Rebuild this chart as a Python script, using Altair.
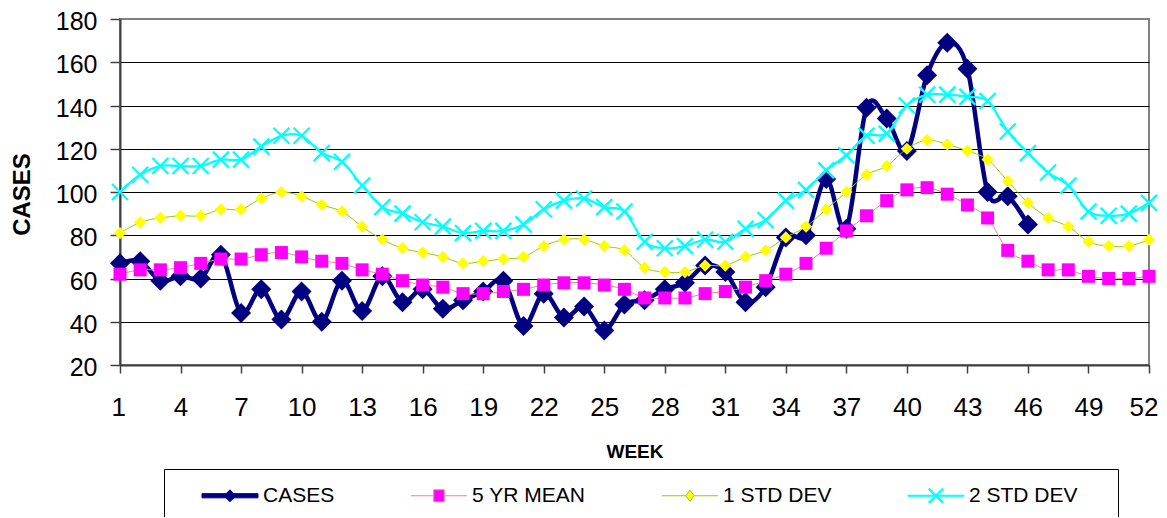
import altair as alt
import pandas as pd

# ---------------- data ----------------
weeks = list(range(1, 53))
series_names = ["CASES", "5 YR MEAN", "1 STD DEV", "2 STD DEV"]

cases = [67, 68, 59, 61, 60, 71, 44, 55, 41, 54, 40, 59, 45, 61, 49, 55, 46, 50,
         54, 59, 38, 53, 42, 47, 36, 48, 50, 55, 58, 66, 63, 49, 56, 79, 80, 106,
         83, 139, 134, 119, 154, 169, 157, 100, 98, 85]
mean5 = [62, 64, 64, 65, 67, 69, 69, 71, 72, 70, 68, 67, 64, 62, 59, 57, 56, 53,
         53, 54, 55, 57, 58, 58, 57, 55, 51, 51, 51, 53, 54, 56, 59, 62, 67, 74,
         82, 89, 96, 101, 102, 99, 94, 88, 73, 68, 64, 64, 61, 60, 60, 61]
std1 = [81, 86, 88, 89, 89, 92, 92, 97, 100, 98, 94, 91, 84, 78, 74, 72, 70, 67,
        68, 69, 70, 75, 78, 78, 75, 73, 65, 63, 63, 66, 66, 70, 73, 79, 84, 92,
        100, 108, 112, 120, 124, 122, 119, 115, 105, 95, 88, 84, 77, 75, 75, 78]
std2 = [100, 108, 112, 112, 112, 115, 115, 121, 126, 126, 118, 114, 103, 93, 90,
        86, 84, 81, 82, 82, 85, 92, 96, 97, 93, 91, 77, 74, 75, 78, 77, 83, 87,
        96, 101, 110, 117, 126, 127, 140, 145, 145, 144, 142, 128, 118, 109, 103,
        91, 89, 90, 95]

x_ticks = list(range(1, 53, 3))
y_ticks = list(range(20, 181, 20))

# ---------------- styles ----------------
line_colors = ["#000080", "#FF8080", "#99CC00", "#00FFFF"]
marker_colors = ["#000080", "#FF00FF", "#FFFF00", "#00FFFF"]
line_widths = [4.5, 1, 1, 2.3]
X_SHAPE = "M-1,-1L1,1M-1,1L1,-1"

# legend symbols: line + marker (unit = 7px with symbolSize 196),
# drawn shifted right by S units so that the label gap matches.
S = 5.64


def _p(pts):
    return "M" + "L".join(f"{x + S:.2f},{y:.2f}" for x, y in pts) + "Z"


def _h(x0, x1):
    return f"M{x0 + S:.2f},0H{x1 + S:.2f}"


LAST_GHOST = f"M{23.4 + S:.2f},0"   # widens only the last entry (box right edge)
legend_paths = [
    _p([(-4, -0.3), (4, -0.3), (4, 0.3), (-4, 0.3)])
    + _p([(0, -0.85), (0.85, 0), (0, 0.85), (-0.85, 0)]),
    _h(-4, -0.75) + _h(0.75, 4)
    + _p([(-0.75, -0.85), (0.75, -0.85), (0.75, 0.85), (-0.75, 0.85)]),
    _h(-4, -0.6) + _h(0.6, 4)
    + _p([(0, -0.8), (0.6, 0), (0, 0.8), (-0.6, 0)]),
    _p([(-4, -0.07), (4, -0.07), (4, 0.07), (-4, 0.07)])
    + _p([(-0.92, -1.08), (1.08, 0.92), (0.92, 1.08), (-1.08, -0.92)])
    + _p([(-1.08, 0.92), (0.92, -1.08), (1.08, -0.92), (-0.92, 1.08)]) + LAST_GHOST,
]

rows = []
for name, vals in zip(series_names, [cases, mean5, std1, std2]):
    for w, v in zip(weeks, vals):
        rows.append({"week": w, "series": name, "value": v})
df = pd.DataFrame(rows)

FONT = "Liberation Sans"

x_enc = alt.X(
    "week:Q",
    scale=alt.Scale(domain=[1, 52], nice=False, zero=False),
    axis=alt.Axis(
        values=x_ticks, format="d", title="WEEK", grid=False,
        tickSize=8, labelPadding=42, labelBaseline="alphabetic",
        labelFlush=True, labelFlushOffset=9, labelOverlap=False,
        titleX=514.5, titleY=92, titleBaseline="alphabetic", titleAlign="center",
        titleFontSize=19, titleFontWeight="bold",
    ),
)
y_enc = alt.Y(
    "value:Q",
    scale=alt.Scale(domain=[20, 180], nice=False, zero=False),
    axis=alt.Axis(
        values=y_ticks, title="CASES", grid=True,
        gridColor={"condition": {"test": "datum.value === 180", "value": "#808080"},
                   "value": "#000000"},
        tickSize=10, labelPadding=13, labelOffset=2.5, labelFontSize=25,
        labelFlush=False, labelOverlap=False,
        titleX=-91, titleY=175, titleBaseline="alphabetic", titleAlign="center",
        titleFontSize=24, titleFontWeight="bold",
    ),
)

base = alt.Chart(df)
layers = []
point_specs = [
    dict(shape="diamond", filled=True, size=400),
    dict(shape="square", filled=True, size=169),
    dict(shape="diamond", filled=True, size=150),
    dict(shape=X_SHAPE, filled=False, size=256, strokeWidth=2.3),
]
for i, name in enumerate(series_names):
    sub = base.transform_filter(alt.datum.series == name)
    layers.append(
        sub.mark_line(color=line_colors[i], strokeWidth=line_widths[i],
                      interpolate="cardinal").encode(x=x_enc, y=y_enc)
    )
    spec = point_specs[i]
    layers.append(
        sub.mark_point(color=marker_colors[i], opacity=1, **spec).encode(x=x_enc, y=y_enc)
    )

legend = alt.Legend(
    orient="none", legendX=44, legendY=450, direction="horizontal", columns=4,
    title=None, symbolSize=196, symbolStrokeWidth=1, symbolOpacity=1,
    labelFontSize=21, labelFont=FONT, labelColor="black", labelOffset=62,
    labelLimit=400, columnPadding=54, padding=16,
    strokeColor="#000000", fillColor="#FFFFFF",
)
legend_layer = base.mark_point(size=0, opacity=1, filled=True).encode(
    x=x_enc, y=y_enc,
    fill=alt.Fill("series:N", scale=alt.Scale(domain=series_names, range=marker_colors), legend=legend),
    stroke=alt.Stroke("series:N", scale=alt.Scale(domain=series_names, range=line_colors), legend=legend),
    shape=alt.Shape("series:N", scale=alt.Scale(domain=series_names, range=legend_paths), legend=legend),
)
layers.append(legend_layer)

chart = alt.layer(*layers).properties(
    width=1029, height=346,
    autosize=alt.AutoSizeParams(type="none"),
    padding={"left": 112, "top": 11, "right": 10, "bottom": 152},
    background="white",
).configure_view(
    stroke="#808080", strokeWidth=2,
).configure_axis(
    labelFont=FONT, labelFontSize=26, labelColor="#000000",
    titleFont=FONT, titleColor="#000000",
    domainColor="#404040", domainWidth=2, tickColor="#404040", tickWidth=1.5,
    gridWidth=1,
)

chart.save("out.html", embed_options={"renderer": "svg", "actions": False})
